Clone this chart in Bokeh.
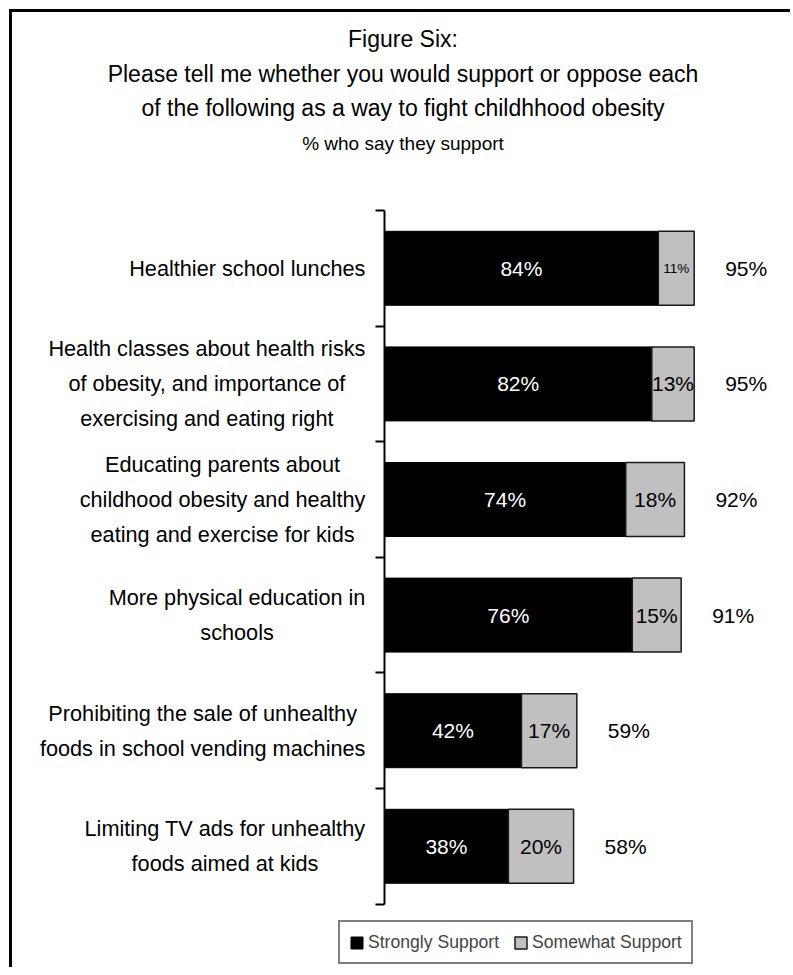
from bokeh.plotting import figure
from bokeh.models import (ColumnDataSource, LabelSet, LinearAxis, FixedTicker,
                          Range1d, Title, Legend, LegendItem)
from bokeh.core.properties import value
from bokeh.embed import file_html
from bokeh.resources import INLINE

# ---------------- data ----------------
categories = [
    "Healthier school lunches",
    "Health classes about health risks\nof obesity, and importance of\nexercising and eating right",
    "Educating parents about\nchildhood obesity and healthy\neating and exercise for kids",
    "More physical education in\nschools",
    "Prohibiting the sale of unhealthy\nfoods in school vending machines",
    "Limiting TV ads for unhealthy\nfoods aimed at kids",
]
strongly = [84, 82, 74, 76, 42, 38]
somewhat = [11, 13, 18, 15, 17, 20]
totals = [95, 95, 92, 91, 59, 58]
series_names = ["Strongly Support", "Somewhat Support"]
title_lines = [
    "Figure Six:",
    "Please tell me whether you would support or oppose each",
    "of the following as a way to fight childhhood obesity",
]
subtitle = "% who say they support"

# ---------------- style / layout ----------------
FONT = "Liberation Sans"
W, H = 781, 958
PAGE_X0, PAGE_Y0 = 12, 12          # canvas origin on the page (9px margin + 3px border)
AXIS_PAGE_X = 384                  # where the value axis sits
AXIS_TOP_PAGE = 210                # page y of the top of the value axis
PX_PER_PCT = 3.26
ROW_PX = 115.6
LINE_PX = 35
CAT_FS = 21.7
TITLE_BLOCK = 147                  # canvas px reserved for the title block
n = len(categories)

x_start = (PAGE_X0 - AXIS_PAGE_X) / PX_PER_PCT
x_end = (PAGE_X0 + W - AXIS_PAGE_X) / PX_PER_PCT
y_end = n + (AXIS_TOP_PAGE - PAGE_Y0 - TITLE_BLOCK) / ROW_PX
y_start = y_end - (H - TITLE_BLOCK) / ROW_PX

p = figure(width=W, height=H, output_backend="svg", toolbar_location=None,
           x_range=Range1d(x_start, x_end), y_range=Range1d(y_start, y_end),
           x_axis_location=None, y_axis_location=None,
           min_border_left=0, min_border_right=0, min_border_bottom=0,
           min_border_top=TITLE_BLOCK,
           styles={"margin-left": "9px", "margin-top": "9px",
                   "border-left": "3px solid black", "border-top": "3px solid black"})
p.outline_line_color = None
p.xgrid.visible = False
p.ygrid.visible = False
p.background_fill_color = "white"
p.border_fill_color = "white"

# titles (stacked upward from the plot area; the last added is the topmost)
title_specs = [  # (text, size, vertical_align, standoff)
    (subtitle, "19px", "top", 8),
    (title_lines[2], "23px", "top", 12),
    (title_lines[1], "23px", "top", 0),
    (title_lines[0], "23px", "bottom", 18),
]
for txt, fs, va, so in title_specs:
    p.add_layout(Title(text=txt, align="center", vertical_align=va, standoff=so,
                       text_font=FONT, text_font_size=fs, text_font_style="normal",
                       text_color="black"), "above")

# ---------------- bars ----------------
ys = [n - i - 0.5 for i in range(n)]
ends = [s + m for s, m in zip(strongly, somewhat)]

# approximate Arial/Liberation Sans advance widths (em) to right-align label blocks
_w = {' ': .278, ',': .278, '.': .278, 'a': .556, 'b': .556, 'c': .5, 'd': .556,
      'e': .556, 'f': .278, 'g': .556, 'h': .556, 'i': .222, 'j': .222, 'k': .5,
      'l': .222, 'm': .833, 'n': .556, 'o': .556, 'p': .556, 'q': .556, 'r': .333,
      's': .5, 't': .278, 'u': .556, 'v': .5, 'w': .722, 'x': .5, 'y': .5,
      'z': .5, 'H': .722, 'E': .667, 'M': .833, 'P': .667, 'L': .556, 'T': .611,
      'V': .667}


def text_width(line):
    return sum(_w.get(c, .556) for c in line) * CAT_FS


src = ColumnDataSource(dict(
    y=ys, strongly=strongly, somewhat=somewhat, ends=ends,
    strong_mid=[s / 2 for s in strongly],
    some_mid=[s + m / 2 for s, m in zip(strongly, somewhat)],
    strong_lbl=[f"{v}%" for v in strongly],
    some_lbl=[f"{v}%" for v in somewhat],
    some_fs=["13.5px" if v < 12 else "21px" for v in somewhat],
    total_lbl=[f"{v}%" for v in totals],
))

# category labels: one label per line, lines centred, blocks right-aligned
cl = dict(x=[], y=[], text=[], xoff=[], yoff=[])
for yc, cat in zip(ys, categories):
    lines = cat.split("\n")
    bw = max(text_width(l) for l in lines)
    m = len(lines)
    for k, line in enumerate(lines):
        cl["x"].append(0)
        cl["y"].append(yc)
        cl["text"].append(line)
        cl["xoff"].append(-(19 + bw / 2))
        cl["yoff"].append(((m - 1) / 2 - k) * LINE_PX)
cat_src = ColumnDataSource(cl)

BAR_H = 0.64
r1 = p.hbar(y="y", left=0, right="strongly", height=BAR_H, source=src,
            fill_color="black", line_color="black", line_width=1)
r2 = p.hbar(y="y", left="strongly", right="ends", height=BAR_H, source=src,
            fill_color="#C0C0C0", line_color="#1a1a1a", line_width=1.5)

# value axis with ticks at category boundaries
ax = LinearAxis(fixed_location=0, bounds=(0, n),
                ticker=FixedTicker(ticks=list(range(n + 1))),
                major_tick_out=9, major_tick_in=0,
                minor_tick_line_color=None,
                axis_line_width=2, major_tick_line_width=2,
                axis_line_color="black", major_tick_line_color="black",
                major_label_text_font_size="0px")
ax.major_label_overrides = {i: "" for i in range(n + 1)}
p.add_layout(ax, "left")

# labels
F = value(FONT)
p.add_layout(LabelSet(x="strong_mid", y="y", text="strong_lbl", source=src,
                      text_align="center", text_baseline="middle",
                      text_color="white", text_font=F, text_font_size="21px"))
p.add_layout(LabelSet(x="some_mid", y="y", text="some_lbl", source=src,
                      text_align="center", text_baseline="middle",
                      text_color="black", text_font=F, text_font_size="some_fs"))
p.add_layout(LabelSet(x="ends", y="y", text="total_lbl", source=src,
                      x_offset=31, text_align="left", text_baseline="middle",
                      text_color="black", text_font=F, text_font_size="21px"))
p.add_layout(LabelSet(x="x", y="y", text="text", source=cat_src,
                      x_offset="xoff", y_offset="yoff",
                      text_align="center", text_baseline="middle",
                      text_color="black", text_font=F,
                      text_font_size=f"{CAT_FS}px"))

# legend
legend = Legend(items=[LegendItem(label=series_names[0], renderers=[r1]),
                       LegendItem(label=series_names[1], renderers=[r2])],
                orientation="horizontal", location=(326, 6),
                label_text_font=FONT, label_text_font_size="17.6px",
                glyph_width=15, glyph_height=15, label_standoff=4, spacing=14,
                padding=9, margin=0, label_height=22,
                border_line_color="black", border_line_width=2,
                background_fill_color="white", background_fill_alpha=1)
p.add_layout(legend)

open("out.html", "w").write(file_html(p, INLINE))
